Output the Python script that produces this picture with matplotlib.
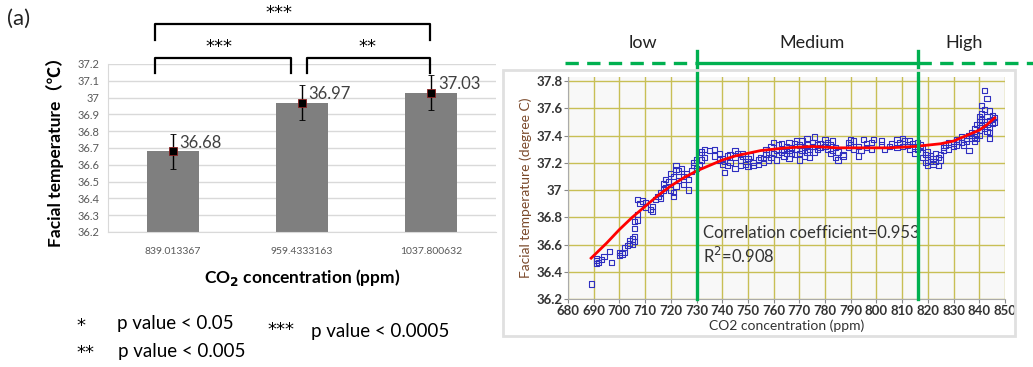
import matplotlib
matplotlib.use("Agg")
import matplotlib.pyplot as plt
from matplotlib.patches import Rectangle

plt.rcParams['font.family'] = ['Lato', 'DejaVu Sans']

# ---- left panel data ----
co2_labels = ["839.013367", "959.4333163", "1037.800632"]
temp_mean = [36.68, 36.97, 37.03]
temp_err = [0.105, 0.105, 0.105]
value_labels = ["36.68", "36.97", "37.03"]

# ---- right panel data ----
scatter_x = [689, 691, 691, 691, 692, 693, 694, 696, 697, 700, 700, 701, 702, 702, 703, 704, 704, 705, 705, 706,
             706, 706, 706, 707, 707, 707, 708, 709, 710, 710, 712, 713, 713, 714, 715, 716, 716, 717, 717, 718,
             718, 719, 720, 720, 721, 721, 721, 722, 722, 722, 723, 723, 724, 725, 725, 726, 727, 727, 728, 729,
             729, 730, 730,
             731, 731, 732, 732, 733, 733, 735, 737, 737, 739, 739, 740, 740, 741, 741, 742, 742, 743, 743, 745,
             745, 745, 746, 747, 747, 748, 748, 749, 749, 750, 750, 751, 752, 752, 754, 754, 755, 756, 756, 757,
             757, 758, 758, 759, 759, 760, 760, 761, 761, 762, 762, 763, 763, 764, 764, 765, 765, 766, 766, 766,
             767, 767, 768, 768, 769, 769, 770, 770, 770, 771, 771, 772, 772, 773, 773, 773, 774, 774, 775, 775,
             776, 776, 777, 777, 778, 778, 780, 780, 781, 781, 782, 782, 783, 783, 784, 784, 785, 785, 787, 787,
             789, 789, 790, 790, 791, 791, 793, 793, 794, 795, 796, 796, 798, 798, 799, 802, 802, 803, 805, 806,
             808, 808, 809, 810, 810, 811, 812, 813, 813, 814, 815, 815, 816, 816,
             817, 817, 818, 818, 819, 819, 820, 820, 820, 821, 821, 822, 822, 823, 823, 824, 824, 825, 825, 826,
             826, 827, 828, 828, 830, 830, 831, 831, 832, 833, 833, 834, 835, 835, 836, 836, 837, 837, 838, 838,
             838, 839, 839, 839, 840, 840, 840, 840, 841, 841, 841, 841, 842, 842, 842, 842, 843, 843, 843, 843,
             844, 844, 844, 844, 844, 845, 845, 845, 846, 846]
scatter_y = [36.31, 36.46, 36.48, 36.50, 36.47, 36.49, 36.51, 36.55, 36.47, 36.52, 36.54, 36.53, 36.58, 36.54, 36.59, 36.61, 36.63, 36.60, 36.64, 36.62,
             36.66, 36.72, 36.77, 36.78, 36.82, 36.93, 36.90, 36.92, 36.87, 36.91, 36.86, 36.88, 36.84, 36.93, 36.95, 36.94, 36.98, 37.00, 37.05, 37.02,
             37.08, 37.06, 37.12, 37.00, 36.95, 36.98, 37.10, 37.03, 37.15, 37.18, 37.14, 37.07, 37.16, 37.10, 37.04, 37.12, 37.00, 37.08, 37.14, 37.18,
             37.20, 37.22, 37.16,
             37.19, 37.26, 37.28, 37.22, 37.30, 37.24, 37.29, 37.30, 37.25, 37.22, 37.27, 37.19, 37.23, 37.13, 37.21, 37.25, 37.18, 37.26, 37.20, 37.29,
             37.24, 37.16, 37.27, 37.22, 37.18, 37.25, 37.27, 37.21, 37.19, 37.17, 37.23, 37.25, 37.20, 37.18, 37.22, 37.19, 37.24, 37.20, 37.23, 37.26,
             37.30, 37.28, 37.22, 37.32, 37.24, 37.27, 37.35, 37.29, 37.22, 37.33, 37.26, 37.28, 37.34, 37.30, 37.25, 37.32, 37.27, 37.35, 37.29, 37.23,
             37.31, 37.27, 37.34, 37.26, 37.30, 37.36, 37.27, 37.33, 37.22, 37.36, 37.29, 37.31, 37.25, 37.38, 37.33, 37.28, 37.30, 37.24, 37.35, 37.32,
             37.39, 37.28, 37.33, 37.30, 37.31, 37.34, 37.32, 37.37, 37.30, 37.35, 37.27, 37.33, 37.36, 37.29, 37.24, 37.31, 37.22, 37.28, 37.26, 37.25,
             37.35, 37.31, 37.37, 37.33, 37.30, 37.36, 37.25, 37.32, 37.29, 37.37, 37.34, 37.31, 37.30, 37.35, 37.37, 37.36, 37.33, 37.30, 37.32, 37.34,
             37.37, 37.31, 37.35, 37.38, 37.32, 37.36, 37.33, 37.36, 37.30, 37.34, 37.32, 37.27, 37.35, 37.30,
             37.28, 37.33, 37.24, 37.31, 37.20, 37.26, 37.22, 37.28, 37.18, 37.25, 37.21, 37.19, 37.23, 37.27, 37.21, 37.24, 37.18, 37.22, 37.26, 37.29,
             37.31, 37.33, 37.30, 37.35, 37.32, 37.34, 37.37, 37.33, 37.36, 37.35, 37.39, 37.33, 37.36, 37.38, 37.40, 37.29, 37.42, 37.38, 37.39, 37.45,
             37.36, 37.41, 37.48, 37.38, 37.50, 37.44, 37.54, 37.40, 37.56, 37.47, 37.52, 37.62, 37.73, 37.59, 37.50, 37.45, 37.67, 37.54, 37.48, 37.43,
             37.58, 37.51, 37.42, 37.38, 37.46, 37.55, 37.49, 37.52, 37.50, 37.53]

fit_x = [689, 695, 700, 705, 710, 715, 720, 725, 730, 735, 740, 745, 750, 755, 760, 765, 770, 775, 780,
         785, 790, 795, 800, 805, 810, 815, 820, 825, 830, 835, 840, 843, 846]
fit_y = [36.50, 36.61, 36.71, 36.80, 36.88, 36.96, 37.03, 37.09, 37.14, 37.18, 37.22, 37.25, 37.27, 37.29,
         37.30, 37.31, 37.315, 37.32, 37.315, 37.31, 37.31, 37.31, 37.31, 37.31, 37.315, 37.32, 37.33,
         37.34, 37.36, 37.40, 37.44, 37.48, 37.53]

zone_edges = [730, 816]
zone_names = ["low", "Medium", "High"]
zone_label_x = [709, 775, 834]

W, H = 1033, 367
fig = plt.figure(figsize=(W / 100, H / 100), dpi=100)


def fx(px):
    return px / W


def fy(py):
    return 1 - py / H


STAR = ['DejaVu Sans']

# ================= left panel =================
ax1 = fig.add_axes([fx(108), fy(232), fx(496) - fx(108), fy(64) - fy(232)])
pos = list(range(len(temp_mean)))
ax1.bar(pos, [m - 36.2 for m in temp_mean], bottom=36.2, width=0.4, color='#7f7f7f', zorder=2)
ax1.errorbar(pos, temp_mean, yerr=temp_err, fmt='s', color='black', ms=6, mec='#8b2020', mew=0.6,
             ecolor='black', elinewidth=1, capsize=2.5, capthick=1, zorder=3)
for p, m, lab in zip(pos, temp_mean, value_labels):
    ax1.text(p + 0.05, m + 0.005, lab, fontsize=12, color='#404040', va='bottom', ha='left')
ax1.set_xlim(-0.5, 2.5)
ax1.set_ylim(36.2, 37.2)
ax1.set_yticks([36.2 + 0.1 * i for i in range(11)])
ax1.set_yticklabels(["36.2", "36.3", "36.4", "36.5", "36.6", "36.7", "36.8", "36.9", "37", "37.1", "37.2"],
                    fontsize=8, color='#595959')
ax1.set_xticks(pos)
ax1.set_xticklabels(co2_labels, fontsize=7.5, color='#595959')
ax1.tick_params(length=0, pad=6)
ax1.tick_params(axis='x', pad=11)
ax1.yaxis.grid(True, color='#d9d9d9', lw=1, zorder=0)
ax1.set_axisbelow(True)
for s in ['top', 'right']:
    ax1.spines[s].set_visible(False)
ax1.spines['left'].set_color('#d9d9d9')
ax1.spines['bottom'].set_color('#d9d9d9')
ax1.set_ylabel("Facial temperature（℃）", fontsize=12.5, fontweight='bold', labelpad=10,
               family=['Lato', 'Noto Sans CJK SC', 'DejaVu Sans'])
ax1.set_xlabel("CO$_\\mathbf{2}$ concentration (ppm)", fontsize=12.5, fontweight='bold', labelpad=8)

# significance brackets
def bracket(x0, x1, ytop, ybot, stars, sx):
    ax1.plot([x0, x0, x1, x1], [ybot, ytop, ytop, ybot], color='black', lw=1.6, clip_on=False, zorder=4)
    ax1.text(sx, ytop + 0.01, stars, fontsize=13, ha='center', va='bottom', clip_on=False, family=STAR)

bracket(-0.14, 1.99, 37.438, 37.343, "***", 0.82)
bracket(-0.14, 0.915, 37.236, 37.146, "***", 0.357)
bracket(1.04, 1.99, 37.236, 37.146, "**", 1.504)

fig.text(fx(7), fy(19), "(a)", fontsize=16, va='center', ha='left', color='#222222')
fig.text(fx(76), fy(326), "*", fontsize=13, va='center', family=STAR)
fig.text(fx(117), fy(324), "p value < 0.05", fontsize=13.5, va='center')
fig.text(fx(76), fy(353), "**", fontsize=13, va='center', family=STAR)
fig.text(fx(118), fy(351), "p value < 0.005", fontsize=13.5, va='center')
fig.text(fx(267), fy(330), "***", fontsize=13, va='center', family=STAR)
fig.text(fx(311), fy(331), "p value < 0.0005", fontsize=13.5, va='center')

# ================= right panel =================
fig.patches.append(Rectangle((fx(503), fy(336)), fx(1015) - fx(503), fy(70) - fy(336),
                             transform=fig.transFigure, fill=False, edgecolor='#e0e0e0', lw=2))
ax2 = fig.add_axes([fx(568), fy(299), fx(1005) - fx(568), fy(77) - fy(299)])
ax2.set_facecolor('#f8f8f8')
ax2.set_xlim(680, 850)
ax2.set_ylim(36.2, 37.83)
ax2.set_xticks(list(range(680, 851, 10)))
ax2.set_yticks([36.2, 36.4, 36.6, 36.8, 37.0, 37.2, 37.4, 37.6, 37.8])
ax2.set_yticklabels(["36.2", "36.4", "36.6", "36.8", "37", "37.2", "37.4", "37.6", "37.8"])
ax2.tick_params(labelsize=9.5, labelcolor='#333333', color='#888888', length=3, pad=1)
for lab in ax2.get_xticklabels() + ax2.get_yticklabels():
    lab.set_fontweight('bold')
ax2.grid(True, color='#c8bf55', lw=1)
ax2.set_axisbelow(True)
for s in ['top', 'right']:
    ax2.spines[s].set_visible(False)
for s in ['left', 'bottom']:
    ax2.spines[s].set_color('#aaaaaa')

ax2.scatter(scatter_x, scatter_y, marker='s', s=14, facecolors='none', edgecolors='#2f2fc0', lw=0.8, zorder=3)
ax2.plot(fit_x, fit_y, color='#ff0000', lw=2, zorder=4)

ax2.set_xlabel("CO2 concentration (ppm)", fontsize=10, color='#333333', labelpad=2)
ax2.set_ylabel("Facial temperature (degree C)", fontsize=10, color='#7b4a2b', labelpad=3)

ax2.text(732.5, 36.685, "Correlation coefficient=0.953", fontsize=12, color='#333333', va='center')
ax2.text(732.5, 36.516, "R$^2$=0.908", fontsize=12, color='#333333', va='center')

# zone markers
green = '#00b050'
for e in zone_edges:
    ax2.plot([e, e], [36.2, 38.02], color=green, lw=2.4, clip_on=False, zorder=5)
ax2.plot([678.7, zone_edges[0]], [37.935, 37.935], color=green, lw=2.4, ls=(0, (4, 2.5)), clip_on=False)
ax2.plot(zone_edges, [37.935, 37.935], color=green, lw=2.4, clip_on=False)
ax2.plot([zone_edges[1], 860.8], [37.935, 37.935], color=green, lw=2.4, ls=(0, (4, 2.5)), clip_on=False)
for zx, name in zip(zone_label_x, zone_names):
    ax2.text(zx, 38.08, name, fontsize=13, ha='center', va='center', color='#222222', clip_on=False)

fig.savefig("out.png", dpi=100)
